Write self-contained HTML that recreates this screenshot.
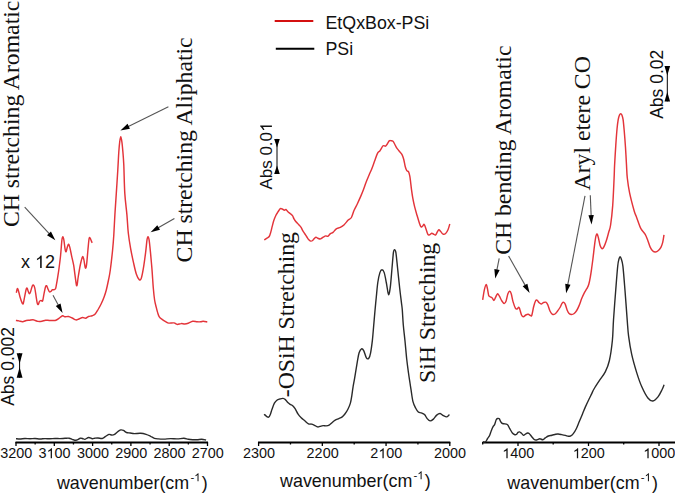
<!DOCTYPE html>
<html><head><meta charset="utf-8"><style>
html,body{margin:0;padding:0;background:#fff;}
svg{display:block;}
.rd{fill:none;stroke:#e3343a;stroke-width:1.45;stroke-linejoin:round;}
.bk{fill:none;stroke:#2a2a2a;stroke-width:1.4;stroke-linejoin:round;}
.ax{stroke:#000;stroke-width:1.8;}
.tk{stroke:#000;stroke-width:1.3;}
.ar{stroke:#555;stroke-width:1.1;}
.ah{fill:#000;}
text{font-family:"Liberation Sans",sans-serif;fill:#111;}
.tl{font-size:14.4px;}
.at{font-size:17.9px;}
.lg{font-size:17.8px;}
.x12{font-size:18px;}
.ab{font-size:17px;}
.ab2{font-size:17.5px;}
.sl{font-family:"Liberation Serif",serif;font-size:23.7px;}
</style></head><body>
<svg width="675" height="494" viewBox="0 0 675 494">
<line x1="15.5" y1="442.5" x2="208" y2="442.5" class="ax"/><line x1="16.0" y1="442" x2="16.0" y2="446" class="tk"/><line x1="54.3" y1="442" x2="54.3" y2="446" class="tk"/><line x1="92.6" y1="442" x2="92.6" y2="446" class="tk"/><line x1="130.89999999999998" y1="442" x2="130.89999999999998" y2="446" class="tk"/><line x1="169.2" y1="442" x2="169.2" y2="446" class="tk"/><line x1="207.5" y1="442" x2="207.5" y2="446" class="tk"/><line x1="35.15" y1="442" x2="35.15" y2="444.5" class="tk"/><line x1="73.44999999999999" y1="442" x2="73.44999999999999" y2="444.5" class="tk"/><line x1="111.75" y1="442" x2="111.75" y2="444.5" class="tk"/><line x1="150.04999999999998" y1="442" x2="150.04999999999998" y2="444.5" class="tk"/><line x1="188.35" y1="442" x2="188.35" y2="444.5" class="tk"/><text x="0.28 8.29 16.30 24.31" y="458.2" style="font-size:14.4px">3200</text><text x="38.58 54.60 62.61" y="458.2" style="font-size:14.4px">300</text><path d="M763,0L583,0L583,-1102Q518,-1043 412,-983Q306,-924 222,-894L222,-1061Q371,-1128 483,-1224Q595,-1321 642,-1409L763,-1409Z" transform="translate(46.59,458.2) scale(0.00703)" fill="#111"/><text x="76.88 84.89 92.90 100.91" y="458.2" style="font-size:14.4px">3000</text><text x="115.18 123.19 131.20 139.21" y="458.2" style="font-size:14.4px">2900</text><text x="153.48 161.49 169.50 177.51" y="458.2" style="font-size:14.4px">2800</text><text x="191.78 199.79 207.80 215.81" y="458.2" style="font-size:14.4px">2700</text>
<line x1="258" y1="442.5" x2="450.3" y2="442.5" class="ax"/><line x1="258.6" y1="442" x2="258.6" y2="446" class="tk"/><line x1="322.33000000000004" y1="442" x2="322.33000000000004" y2="446" class="tk"/><line x1="386.06" y1="442" x2="386.06" y2="446" class="tk"/><line x1="449.79" y1="442" x2="449.79" y2="446" class="tk"/><line x1="290.47" y1="442" x2="290.47" y2="444.5" class="tk"/><line x1="354.20000000000005" y1="442" x2="354.20000000000005" y2="444.5" class="tk"/><line x1="417.93" y1="442" x2="417.93" y2="444.5" class="tk"/><text x="242.88 250.89 258.90 266.91" y="458.2" style="font-size:14.4px">2300</text><text x="306.61 314.62 322.63 330.64" y="458.2" style="font-size:14.4px">2200</text><text x="370.34 386.36 394.37" y="458.2" style="font-size:14.4px">200</text><path d="M763,0L583,0L583,-1102Q518,-1043 412,-983Q306,-924 222,-894L222,-1061Q371,-1128 483,-1224Q595,-1321 642,-1409L763,-1409Z" transform="translate(378.35,458.2) scale(0.00703)" fill="#111"/><text x="434.07 442.08 450.09 458.10" y="458.2" style="font-size:14.4px">2000</text>
<line x1="482.5" y1="442.5" x2="675" y2="442.5" class="ax"/><line x1="518" y1="442" x2="518" y2="446" class="tk"/><line x1="588.5" y1="442" x2="588.5" y2="446" class="tk"/><line x1="659" y1="442" x2="659" y2="446" class="tk"/><line x1="482.7" y1="442" x2="482.7" y2="444.5" class="tk"/><line x1="553.2" y1="442" x2="553.2" y2="444.5" class="tk"/><line x1="623.7" y1="442" x2="623.7" y2="444.5" class="tk"/><text x="510.29 518.30 526.31" y="458.2" style="font-size:14.4px">400</text><path d="M763,0L583,0L583,-1102Q518,-1043 412,-983Q306,-924 222,-894L222,-1061Q371,-1128 483,-1224Q595,-1321 642,-1409L763,-1409Z" transform="translate(502.28,458.2) scale(0.00703)" fill="#111"/><text x="580.79 588.80 596.81" y="458.2" style="font-size:14.4px">200</text><path d="M763,0L583,0L583,-1102Q518,-1043 412,-983Q306,-924 222,-894L222,-1061Q371,-1128 483,-1224Q595,-1321 642,-1409L763,-1409Z" transform="translate(572.78,458.2) scale(0.00703)" fill="#111"/><text x="651.29 659.30 667.31" y="458.2" style="font-size:14.4px">000</text><path d="M763,0L583,0L583,-1102Q518,-1043 412,-983Q306,-924 222,-894L222,-1061Q371,-1128 483,-1224Q595,-1321 642,-1409L763,-1409Z" transform="translate(643.28,458.2) scale(0.00703)" fill="#111"/>
<path d="M15.90,320.50C16.40,320.57 17.78,320.70 18.90,320.90C20.02,321.10 21.37,321.77 22.60,321.70C23.83,321.63 25.18,320.75 26.30,320.50C27.42,320.25 28.18,320.33 29.30,320.20C30.42,320.07 32.02,319.65 33.00,319.70C33.98,319.75 34.35,320.22 35.20,320.50C36.05,320.78 36.98,321.28 38.10,321.40C39.22,321.52 40.65,321.40 41.90,321.20C43.15,321.00 44.37,320.32 45.60,320.20C46.83,320.08 48.07,320.45 49.30,320.50C50.53,320.55 51.90,320.55 53.00,320.50C54.10,320.45 54.92,320.55 55.90,320.20C56.88,319.85 57.78,319.15 58.90,318.40C60.02,317.65 61.62,315.97 62.60,315.70C63.58,315.43 63.82,316.67 64.80,316.80C65.78,316.93 67.27,316.30 68.50,316.50C69.73,316.70 70.97,317.43 72.20,318.00C73.43,318.57 74.78,319.73 75.90,319.90C77.02,320.07 77.78,319.40 78.90,319.00C80.02,318.60 81.48,317.62 82.60,317.50C83.72,317.38 84.62,318.47 85.60,318.30C86.58,318.13 87.40,316.93 88.50,316.50C89.60,316.07 91.08,316.12 92.20,315.70C93.32,315.28 94.22,315.03 95.20,314.00C96.18,312.97 97.12,311.17 98.10,309.50C99.08,307.83 100.10,306.08 101.10,304.00C102.10,301.92 103.23,299.33 104.10,297.00C104.97,294.67 105.57,292.83 106.30,290.00C107.03,287.17 107.83,283.33 108.50,280.00C109.17,276.67 109.62,275.00 110.30,270.00C110.98,265.00 112.02,255.83 112.60,250.00C113.18,244.17 113.42,240.90 113.80,235.00C114.18,229.10 114.48,221.53 114.90,214.60C115.32,207.67 115.82,200.83 116.30,193.40C116.78,185.97 117.38,176.90 117.80,170.00C118.22,163.10 118.48,156.67 118.80,152.00C119.12,147.33 119.37,144.55 119.70,142.00C120.03,139.45 120.43,136.70 120.80,136.70C121.17,136.70 121.55,139.45 121.90,142.00C122.25,144.55 122.58,148.17 122.90,152.00C123.22,155.83 123.48,158.10 123.80,165.00C124.12,171.90 124.28,185.13 124.80,193.40C125.32,201.67 126.32,208.00 126.90,214.60C127.48,221.20 127.68,227.37 128.30,233.00C128.92,238.63 129.73,243.47 130.60,248.40C131.47,253.33 132.55,258.35 133.50,262.60C134.45,266.85 135.35,271.07 136.30,273.90C137.25,276.73 138.37,278.88 139.20,279.60C140.03,280.32 140.60,280.10 141.30,278.20C142.00,276.30 142.68,272.47 143.40,268.20C144.12,263.93 145.00,257.32 145.60,252.60C146.20,247.88 146.60,242.55 147.00,239.90C147.40,237.25 147.65,236.70 148.00,236.70C148.35,236.70 148.68,237.25 149.10,239.90C149.52,242.55 150.02,247.65 150.50,252.60C150.98,257.55 151.53,263.70 152.00,269.60C152.47,275.50 152.87,282.93 153.30,288.00C153.73,293.07 154.12,296.82 154.60,300.00C155.08,303.18 155.70,305.03 156.20,307.10C156.70,309.17 157.08,310.77 157.60,312.40C158.12,314.03 158.50,315.70 159.30,316.90C160.10,318.10 161.28,318.78 162.40,319.60C163.52,320.42 164.95,321.22 166.00,321.80C167.05,322.38 167.37,322.92 168.70,323.10C170.03,323.28 172.60,322.68 174.00,322.90C175.40,323.12 175.92,324.28 177.10,324.40C178.28,324.52 179.83,323.67 181.10,323.60C182.37,323.53 183.52,324.05 184.70,324.00C185.88,323.95 186.87,323.75 188.20,323.30C189.53,322.85 191.22,321.55 192.70,321.30C194.18,321.05 195.77,321.72 197.10,321.80C198.43,321.88 199.67,321.90 200.70,321.80C201.73,321.70 202.20,321.17 203.30,321.20C204.40,321.23 206.63,321.87 207.30,322.00" class="rd"/>
<path d="M16.30,292.80C16.47,292.12 16.97,289.13 17.30,288.70C17.63,288.27 17.83,288.77 18.30,290.20C18.77,291.63 19.47,295.18 20.10,297.30C20.73,299.42 21.57,301.88 22.10,302.90C22.63,303.92 22.87,304.50 23.30,303.40C23.73,302.30 24.22,298.67 24.70,296.30C25.18,293.93 25.78,290.55 26.20,289.20C26.62,287.85 26.87,287.85 27.20,288.20C27.53,288.55 27.83,290.37 28.20,291.30C28.57,292.23 28.98,293.80 29.40,293.80C29.82,293.80 30.23,292.57 30.70,291.30C31.17,290.03 31.73,287.22 32.20,286.20C32.67,285.18 33.07,284.87 33.50,285.20C33.93,285.53 34.37,286.35 34.80,288.20C35.23,290.05 35.68,293.77 36.10,296.30C36.52,298.83 36.93,302.05 37.30,303.40C37.67,304.75 37.93,304.73 38.30,304.40C38.67,304.07 39.03,302.07 39.50,301.40C39.97,300.73 40.58,300.48 41.10,300.40C41.62,300.32 42.13,301.92 42.60,300.90C43.07,299.88 43.43,296.58 43.90,294.30C44.37,292.02 44.95,288.63 45.40,287.20C45.85,285.77 46.18,285.45 46.60,285.70C47.02,285.95 47.43,287.68 47.90,288.70C48.37,289.72 48.88,291.37 49.40,291.80C49.92,292.23 50.48,291.65 51.00,291.30C51.52,290.95 52.00,289.97 52.50,289.70C53.00,289.43 53.50,289.87 54.00,289.70C54.50,289.53 55.08,289.62 55.50,288.70C55.92,287.78 56.13,286.13 56.50,284.20C56.87,282.27 57.28,279.72 57.70,277.10C58.12,274.48 58.52,272.13 59.00,268.50C59.48,264.87 60.12,260.03 60.60,255.30C61.08,250.57 61.52,243.22 61.90,240.10C62.28,236.98 62.57,236.60 62.90,236.60C63.23,236.60 63.53,238.00 63.90,240.10C64.27,242.20 64.73,247.25 65.10,249.20C65.47,251.15 65.73,252.13 66.10,251.80C66.47,251.47 66.87,248.47 67.30,247.20C67.73,245.93 68.25,244.03 68.70,244.20C69.15,244.37 69.50,246.18 70.00,248.20C70.50,250.22 71.08,253.43 71.70,256.30C72.32,259.17 73.12,262.02 73.70,265.40C74.28,268.78 74.75,273.33 75.20,276.60C75.65,279.87 76.07,283.68 76.40,285.00C76.73,286.32 76.90,285.83 77.20,284.50C77.50,283.17 77.65,280.42 78.20,277.00C78.75,273.58 79.78,267.37 80.50,264.00C81.22,260.63 81.95,257.57 82.50,256.80C83.05,256.03 83.32,257.53 83.80,259.40C84.28,261.27 84.93,267.17 85.40,268.00C85.87,268.83 86.18,267.37 86.60,264.40C87.02,261.43 87.48,254.50 87.90,250.20C88.32,245.90 88.72,240.58 89.10,238.60C89.48,236.62 89.82,237.88 90.20,238.30C90.58,238.72 91.07,240.33 91.40,241.10C91.73,241.87 92.07,242.60 92.20,242.90" class="rd"/>
<path d="M264.30,240.00C264.68,239.72 265.78,238.88 266.60,238.30C267.42,237.72 268.52,237.48 269.20,236.50C269.88,235.52 270.20,234.08 270.70,232.40C271.20,230.72 271.70,228.33 272.20,226.40C272.70,224.47 273.12,222.58 273.70,220.80C274.28,219.02 275.02,217.13 275.70,215.70C276.38,214.27 277.03,213.37 277.80,212.20C278.57,211.03 279.55,209.23 280.30,208.70C281.05,208.17 281.62,208.75 282.30,209.00C282.98,209.25 283.80,210.12 284.40,210.20C285.00,210.28 285.32,209.25 285.90,209.50C286.48,209.75 287.15,211.00 287.90,211.70C288.65,212.40 289.63,213.03 290.40,213.70C291.17,214.37 291.90,214.85 292.50,215.70C293.10,216.55 293.42,217.78 294.00,218.80C294.58,219.82 295.25,220.87 296.00,221.80C296.75,222.73 297.65,223.47 298.50,224.40C299.35,225.33 300.42,226.40 301.10,227.40C301.78,228.40 302.02,229.38 302.60,230.40C303.18,231.42 303.93,232.48 304.60,233.50C305.27,234.52 305.93,235.50 306.60,236.50C307.27,237.50 307.92,238.73 308.60,239.50C309.28,240.27 310.02,240.93 310.70,241.10C311.38,241.27 312.17,240.85 312.70,240.50C313.23,240.15 313.37,239.55 313.90,239.00C314.43,238.45 315.23,237.32 315.90,237.20C316.57,237.08 317.13,238.02 317.90,238.30C318.67,238.58 319.62,239.08 320.50,238.90C321.38,238.72 322.32,237.70 323.20,237.20C324.08,236.70 325.03,236.05 325.80,235.90C326.57,235.75 327.03,236.67 327.80,236.30C328.57,235.93 329.53,234.35 330.40,233.70C331.27,233.05 332.02,233.20 333.00,232.40C333.98,231.60 335.08,229.73 336.30,228.90C337.52,228.07 338.98,228.10 340.30,227.40C341.62,226.70 342.88,225.92 344.20,224.70C345.52,223.48 347.00,221.30 348.20,220.10C349.40,218.90 350.42,219.13 351.40,217.50C352.38,215.87 353.10,212.60 354.10,210.30C355.10,208.00 356.30,206.02 357.40,203.70C358.50,201.38 359.68,198.77 360.70,196.40C361.72,194.03 362.60,191.87 363.50,189.50C364.40,187.13 365.17,184.62 366.10,182.20C367.03,179.78 368.08,177.42 369.10,175.00C370.12,172.58 371.28,170.03 372.20,167.70C373.12,165.37 373.70,163.43 374.60,161.00C375.50,158.57 376.70,154.82 377.60,153.10C378.50,151.38 379.08,151.92 380.00,150.70C380.92,149.48 382.18,146.55 383.10,145.80C384.02,145.05 384.80,146.50 385.50,146.20C386.20,145.90 386.68,144.88 387.30,144.00C387.92,143.12 388.58,141.45 389.20,140.90C389.82,140.35 390.37,140.65 391.00,140.70C391.63,140.75 392.40,140.65 393.00,141.20C393.60,141.75 394.02,142.93 394.60,144.00C395.18,145.07 395.78,146.48 396.50,147.60C397.22,148.72 398.00,149.58 398.90,150.70C399.80,151.82 401.10,152.88 401.90,154.30C402.70,155.72 403.15,157.17 403.70,159.20C404.25,161.23 404.68,164.58 405.20,166.50C405.72,168.42 406.23,169.80 406.80,170.70C407.37,171.60 408.10,170.98 408.60,171.90C409.10,172.82 409.47,174.52 409.80,176.20C410.13,177.88 410.32,179.75 410.60,182.00C410.88,184.25 411.13,187.00 411.50,189.70C411.87,192.40 412.28,195.37 412.80,198.20C413.32,201.03 413.90,203.87 414.60,206.70C415.30,209.53 416.23,212.57 417.00,215.20C417.77,217.83 418.55,220.57 419.20,222.50C419.85,224.43 420.35,226.18 420.90,226.80C421.45,227.42 421.97,226.62 422.50,226.20C423.03,225.78 423.60,224.10 424.10,224.30C424.60,224.50 424.87,225.72 425.50,227.40C426.13,229.08 427.18,233.18 427.90,234.40C428.62,235.62 429.15,234.90 429.80,234.70C430.45,234.50 431.10,233.25 431.80,233.20C432.50,233.15 433.33,234.15 434.00,234.40C434.67,234.65 435.03,235.47 435.80,234.70C436.57,233.93 437.78,230.32 438.60,229.80C439.42,229.28 439.95,230.88 440.70,231.60C441.45,232.32 442.28,233.78 443.10,234.10C443.92,234.42 444.78,234.22 445.60,233.50C446.42,232.78 447.30,231.38 448.00,229.80C448.70,228.22 449.50,224.97 449.80,224.00" class="rd"/>
<path d="M482.70,299.80C482.97,298.18 483.73,292.63 484.30,290.10C484.87,287.57 485.57,284.80 486.10,284.60C486.63,284.40 487.07,287.07 487.50,288.90C487.93,290.73 488.23,294.28 488.70,295.60C489.17,296.92 489.72,296.40 490.30,296.80C490.88,297.20 491.58,297.40 492.20,298.00C492.82,298.60 493.40,300.60 494.00,300.40C494.60,300.20 495.20,297.92 495.80,296.80C496.40,295.68 497.00,293.80 497.60,293.70C498.20,293.60 498.68,294.98 499.40,296.20C500.12,297.42 501.08,299.78 501.90,301.00C502.72,302.22 503.60,303.50 504.30,303.50C505.00,303.50 505.50,302.63 506.10,301.00C506.70,299.37 507.28,295.32 507.90,293.70C508.52,292.08 509.23,291.25 509.80,291.30C510.37,291.35 510.77,292.28 511.30,294.00C511.83,295.72 512.30,299.22 513.00,301.60C513.70,303.98 514.78,307.08 515.50,308.30C516.22,309.52 516.77,309.10 517.30,308.90C517.83,308.70 518.30,307.10 518.70,307.10C519.10,307.10 519.23,307.58 519.70,308.90C520.17,310.22 520.88,313.68 521.50,315.00C522.12,316.32 522.68,316.80 523.40,316.80C524.12,316.80 525.00,315.42 525.80,315.00C526.60,314.58 527.38,314.20 528.20,314.30C529.02,314.40 530.08,315.48 530.70,315.60C531.32,315.72 531.40,316.52 531.90,315.00C532.40,313.48 533.10,308.83 533.70,306.50C534.30,304.17 534.95,302.07 535.50,301.00C536.05,299.93 536.38,299.80 537.00,300.10C537.62,300.40 538.48,302.15 539.20,302.80C539.92,303.45 540.60,304.03 541.30,304.00C542.00,303.97 542.65,302.90 543.40,302.60C544.15,302.30 545.08,301.87 545.80,302.20C546.52,302.53 546.98,303.08 547.70,304.60C548.42,306.12 549.30,309.68 550.10,311.30C550.90,312.92 551.68,313.85 552.50,314.30C553.32,314.75 554.18,314.50 555.00,314.00C555.82,313.50 556.57,312.38 557.40,311.30C558.23,310.22 559.23,308.82 560.00,307.50C560.77,306.18 561.37,304.25 562.00,303.40C562.63,302.55 563.25,302.23 563.80,302.40C564.35,302.57 564.75,303.13 565.30,304.40C565.85,305.67 566.47,308.48 567.10,310.00C567.73,311.52 568.35,312.75 569.10,313.50C569.85,314.25 570.75,314.50 571.60,314.50C572.45,314.50 573.35,314.17 574.20,313.50C575.05,312.83 575.87,311.85 576.70,310.50C577.53,309.15 578.35,307.43 579.20,305.40C580.05,303.37 580.95,300.40 581.80,298.30C582.65,296.20 583.47,294.40 584.30,292.80C585.13,291.20 586.05,290.13 586.80,288.70C587.55,287.27 588.20,286.23 588.80,284.20C589.40,282.17 589.92,279.20 590.40,276.50C590.88,273.80 591.28,270.92 591.70,268.00C592.12,265.08 592.38,263.13 592.90,259.00C593.42,254.87 594.28,247.05 594.80,243.20C595.32,239.35 595.60,237.42 596.00,235.90C596.40,234.38 596.80,233.78 597.20,234.10C597.60,234.42 597.90,235.87 598.40,237.80C598.90,239.73 599.58,243.88 600.20,245.70C600.82,247.52 601.48,248.50 602.10,248.70C602.72,248.90 603.20,248.22 603.90,246.90C604.60,245.58 605.50,243.23 606.30,240.80C607.10,238.37 607.98,234.93 608.70,232.30C609.42,229.67 609.93,229.45 610.60,225.00C611.27,220.55 612.12,213.40 612.70,205.60C613.28,197.80 613.78,184.97 614.10,178.20C614.42,171.43 614.32,170.52 614.60,165.00C614.88,159.48 615.40,151.05 615.80,145.10C616.20,139.15 616.60,133.55 617.00,129.30C617.40,125.05 617.78,121.98 618.20,119.60C618.62,117.22 619.08,115.98 619.50,115.00C619.92,114.02 620.30,113.70 620.70,113.70C621.10,113.70 621.50,114.02 621.90,115.00C622.30,115.98 622.70,116.82 623.10,119.60C623.50,122.38 623.90,127.05 624.30,131.70C624.70,136.35 625.13,141.95 625.50,147.50C625.87,153.05 626.20,159.92 626.50,165.00C626.80,170.08 626.78,173.37 627.30,178.00C627.82,182.63 628.45,187.30 629.60,192.80C630.75,198.30 633.12,207.12 634.20,211.00C635.28,214.88 635.35,214.07 636.10,216.10C636.85,218.13 637.85,221.02 638.70,223.20C639.55,225.38 640.12,227.35 641.20,229.20C642.28,231.05 644.10,232.43 645.20,234.30C646.30,236.17 646.95,238.22 647.80,240.40C648.65,242.58 649.47,245.63 650.30,247.40C651.13,249.17 651.95,250.23 652.80,251.00C653.65,251.77 654.47,252.08 655.40,252.00C656.33,251.92 657.48,251.27 658.40,250.50C659.32,249.73 660.18,248.75 660.90,247.40C661.62,246.05 662.18,244.50 662.70,242.40C663.22,240.30 663.78,236.07 664.00,234.80" class="rd"/>
<path d="M16.00,438.70C16.67,438.75 18.50,439.03 20.00,439.00C21.50,438.97 23.33,438.53 25.00,438.50C26.67,438.47 28.33,438.80 30.00,438.80C31.67,438.80 33.33,438.47 35.00,438.50C36.67,438.53 38.33,438.98 40.00,439.00C41.67,439.02 43.33,438.63 45.00,438.60C46.67,438.57 48.33,438.82 50.00,438.80C51.67,438.78 53.33,438.53 55.00,438.50C56.67,438.47 58.33,438.63 60.00,438.60C61.67,438.57 63.48,438.37 65.00,438.30C66.52,438.23 67.92,438.03 69.10,438.20C70.28,438.37 71.17,438.95 72.10,439.30C73.03,439.65 73.83,440.22 74.70,440.30C75.57,440.38 76.35,440.15 77.30,439.80C78.25,439.45 79.45,438.38 80.40,438.20C81.35,438.02 82.23,438.52 83.00,438.70C83.77,438.88 84.05,439.50 85.00,439.30C85.95,439.10 87.48,437.60 88.70,437.50C89.92,437.40 91.27,438.58 92.30,438.70C93.33,438.82 93.95,438.32 94.90,438.20C95.85,438.08 96.78,437.95 98.00,438.00C99.22,438.05 100.98,438.72 102.20,438.50C103.42,438.28 104.18,437.38 105.30,436.70C106.42,436.02 107.78,434.67 108.90,434.40C110.02,434.13 111.05,435.10 112.00,435.10C112.95,435.10 113.65,434.97 114.60,434.40C115.55,433.83 116.67,432.45 117.70,431.70C118.73,430.95 119.85,430.12 120.80,429.90C121.75,429.68 122.45,429.97 123.40,430.40C124.35,430.83 125.37,432.07 126.50,432.50C127.63,432.93 128.90,432.82 130.20,433.00C131.50,433.18 132.57,433.55 134.30,433.60C136.03,433.65 138.63,433.17 140.60,433.30C142.57,433.43 144.43,433.90 146.10,434.40C147.77,434.90 149.22,435.65 150.60,436.30C151.98,436.95 153.12,437.87 154.40,438.30C155.68,438.73 156.72,438.77 158.30,438.90C159.88,439.03 161.85,439.15 163.90,439.10C165.95,439.05 168.38,438.63 170.60,438.60C172.82,438.57 174.98,438.95 177.20,438.90C179.42,438.85 182.05,438.23 183.90,438.30C185.75,438.37 186.82,439.07 188.30,439.30C189.78,439.53 191.32,439.62 192.80,439.70C194.28,439.78 195.72,439.87 197.20,439.80C198.68,439.73 200.22,439.27 201.70,439.30C203.18,439.33 205.37,439.88 206.10,440.00" class="bk"/>
<path d="M264.10,414.20C264.50,414.55 265.75,415.80 266.50,416.30C267.25,416.80 267.98,417.45 268.60,417.20C269.22,416.95 269.63,416.12 270.20,414.80C270.77,413.48 271.30,411.23 272.00,409.30C272.70,407.37 273.58,404.72 274.40,403.20C275.22,401.68 275.98,400.90 276.90,400.20C277.82,399.50 278.88,399.30 279.90,399.00C280.92,398.70 282.08,398.30 283.00,398.40C283.92,398.50 284.60,398.90 285.40,399.60C286.20,400.30 287.00,401.80 287.80,402.60C288.60,403.40 289.38,403.88 290.20,404.40C291.02,404.92 291.88,404.98 292.70,405.70C293.52,406.42 294.20,407.28 295.10,408.70C296.00,410.12 297.08,412.68 298.10,414.20C299.12,415.72 300.08,416.70 301.20,417.80C302.32,418.90 303.58,419.78 304.80,420.80C306.02,421.82 307.38,423.35 308.50,423.90C309.62,424.45 310.50,423.87 311.50,424.10C312.50,424.33 313.48,424.83 314.50,425.30C315.52,425.77 316.68,426.72 317.60,426.90C318.52,427.08 319.10,426.62 320.00,426.40C320.90,426.18 321.98,425.68 323.00,425.60C324.02,425.52 325.08,425.97 326.10,425.90C327.12,425.83 328.08,425.77 329.10,425.20C330.12,424.63 331.18,423.35 332.20,422.50C333.22,421.65 334.10,420.75 335.20,420.10C336.30,419.45 337.68,419.10 338.80,418.60C339.92,418.10 340.88,417.87 341.90,417.10C342.92,416.33 343.90,415.32 344.90,414.00C345.90,412.68 346.98,411.02 347.90,409.20C348.82,407.38 349.75,405.33 350.40,403.10C351.05,400.87 351.37,398.43 351.80,395.80C352.23,393.17 352.53,390.22 353.00,387.30C353.47,384.38 353.88,382.53 354.60,378.30C355.32,374.07 356.55,366.15 357.30,361.90C358.05,357.65 358.40,354.98 359.10,352.80C359.80,350.62 360.73,349.17 361.50,348.80C362.27,348.43 362.88,349.08 363.70,350.60C364.52,352.12 365.55,356.62 366.40,357.90C367.25,359.18 368.10,359.15 368.80,358.30C369.50,357.45 370.00,355.83 370.60,352.80C371.20,349.77 371.88,344.65 372.40,340.10C372.92,335.55 373.27,330.43 373.70,325.50C374.13,320.57 374.57,315.25 375.00,310.50C375.43,305.75 375.83,301.67 376.30,297.00C376.77,292.33 377.20,286.57 377.80,282.50C378.40,278.43 379.20,274.73 379.90,272.60C380.60,270.47 381.28,269.70 382.00,269.70C382.72,269.70 383.48,270.47 384.20,272.60C384.92,274.73 385.65,279.08 386.30,282.50C386.95,285.92 387.63,291.22 388.10,293.10C388.57,294.98 388.70,295.10 389.10,293.80C389.50,292.50 390.02,289.55 390.50,285.30C390.98,281.05 391.52,273.73 392.00,268.30C392.48,262.87 392.98,255.82 393.40,252.70C393.82,249.58 394.08,249.60 394.50,249.60C394.92,249.60 395.38,249.58 395.90,252.70C396.42,255.82 396.97,262.38 397.60,268.30C398.23,274.22 399.07,282.53 399.70,288.20C400.33,293.87 400.97,298.67 401.40,302.30C401.83,305.93 401.98,306.22 402.30,310.00C402.62,313.78 402.85,319.83 403.30,325.00C403.75,330.17 404.43,335.33 405.00,341.00C405.57,346.67 406.12,353.67 406.70,359.00C407.28,364.33 407.95,369.00 408.50,373.00C409.05,377.00 409.57,380.15 410.00,383.00C410.43,385.85 410.62,387.05 411.10,390.10C411.58,393.15 412.15,398.32 412.90,401.30C413.65,404.28 414.70,406.22 415.60,408.00C416.50,409.78 417.37,411.18 418.30,412.00C419.23,412.82 420.17,412.47 421.20,412.90C422.23,413.33 423.50,413.65 424.50,414.60C425.50,415.55 426.27,417.55 427.20,418.60C428.13,419.65 429.07,420.82 430.10,420.90C431.13,420.98 432.30,420.07 433.40,419.10C434.50,418.13 435.58,416.03 436.70,415.10C437.82,414.17 438.98,413.40 440.10,413.50C441.22,413.60 442.28,415.13 443.40,415.70C444.52,416.27 445.80,417.08 446.80,416.90C447.80,416.72 448.97,414.98 449.40,414.60" class="bk"/>
<path d="M483.00,442.00C483.43,441.97 484.83,442.38 485.60,441.80C486.37,441.22 486.93,439.55 487.60,438.50C488.27,437.45 489.00,436.77 489.60,435.50C490.20,434.23 490.60,432.42 491.20,430.90C491.80,429.38 492.62,427.48 493.20,426.40C493.78,425.32 494.20,425.50 494.70,424.40C495.20,423.30 495.70,420.78 496.20,419.80C496.70,418.82 497.18,418.67 497.70,418.50C498.22,418.33 498.83,418.33 499.30,418.80C499.77,419.27 500.08,420.58 500.50,421.30C500.92,422.02 501.25,422.68 501.80,423.10C502.35,423.52 503.05,423.63 503.80,423.80C504.55,423.97 505.62,423.87 506.30,424.10C506.98,424.33 507.30,424.40 507.90,425.20C508.50,426.00 509.15,427.60 509.90,428.90C510.65,430.20 511.65,432.07 512.40,433.00C513.15,433.93 513.75,434.25 514.40,434.50C515.05,434.75 515.70,434.85 516.30,434.50C516.90,434.15 517.47,432.83 518.00,432.40C518.53,431.97 518.92,431.75 519.50,431.90C520.08,432.05 520.83,432.73 521.50,433.30C522.17,433.87 522.82,435.18 523.50,435.30C524.18,435.42 524.92,434.38 525.60,434.00C526.28,433.62 527.02,433.08 527.60,433.00C528.18,432.92 528.43,432.92 529.10,433.50C529.77,434.08 530.75,435.50 531.60,436.50C532.45,437.50 533.43,438.92 534.20,439.50C534.97,440.08 535.67,439.97 536.20,440.00C536.73,440.03 536.78,439.90 537.40,439.70C538.02,439.50 538.98,438.80 539.90,438.80C540.82,438.80 542.00,439.85 542.90,439.70C543.80,439.55 544.38,438.52 545.30,437.90C546.22,437.28 547.28,436.45 548.40,436.00C549.52,435.55 550.78,435.50 552.00,435.20C553.22,434.90 554.68,434.40 555.70,434.20C556.72,434.00 557.10,433.93 558.10,434.00C559.10,434.07 560.48,434.37 561.70,434.60C562.92,434.83 564.28,435.12 565.40,435.40C566.52,435.68 567.50,436.23 568.40,436.30C569.30,436.37 569.98,436.25 570.80,435.80C571.62,435.35 572.38,434.78 573.30,433.60C574.22,432.42 575.30,430.72 576.30,428.70C577.30,426.68 578.28,423.92 579.30,421.50C580.32,419.08 581.38,416.63 582.40,414.20C583.42,411.77 584.38,409.23 585.40,406.90C586.42,404.57 587.48,402.33 588.50,400.20C589.52,398.07 590.58,395.97 591.50,394.10C592.42,392.23 592.70,391.23 594.00,389.00C595.30,386.77 597.40,383.60 599.30,380.70C601.20,377.80 603.72,374.97 605.40,371.60C607.08,368.23 608.23,365.73 609.40,360.50C610.57,355.27 611.72,346.95 612.40,340.20C613.08,333.45 612.95,328.28 613.50,320.00C614.05,311.72 615.00,299.47 615.70,290.50C616.40,281.53 617.15,271.45 617.70,266.20C618.25,260.95 618.60,260.57 619.00,259.00C619.40,257.43 619.72,256.80 620.10,256.80C620.48,256.80 620.83,257.43 621.30,259.00C621.77,260.57 622.28,260.95 622.90,266.20C623.52,271.45 624.28,281.53 625.00,290.50C625.72,299.47 626.60,312.38 627.20,320.00C627.80,327.62 627.85,330.47 628.60,336.20C629.35,341.93 630.35,348.33 631.70,354.40C633.05,360.47 635.02,367.20 636.70,372.60C638.38,378.00 639.93,382.57 641.80,386.80C643.67,391.03 646.05,395.63 647.90,398.00C649.75,400.37 651.22,401.18 652.90,401.00C654.58,400.82 656.48,398.77 658.00,396.90C659.52,395.03 660.98,391.82 662.00,389.80C663.02,387.78 663.75,385.63 664.10,384.80" class="bk"/>
<line x1="24.7" y1="207.2" x2="49.66" y2="234.11" class="ar"/><polygon points="55.3,240.2 47.00,235.22 50.96,231.54" class="ah"/>
<line x1="53" y1="295.3" x2="58.64" y2="305.70" class="ar"/><polygon points="62.6,313 55.79,306.11 60.54,303.54" class="ah"/>
<line x1="168.4" y1="106.7" x2="127.84" y2="126.73" class="ar"/><polygon points="120.4,130.4 127.54,123.86 129.93,128.70" class="ah"/>
<line x1="174.4" y1="218.4" x2="157.78" y2="228.04" class="ar"/><polygon points="150.6,232.2 157.29,225.20 160.00,229.87" class="ah"/>
<line x1="499.2" y1="258.3" x2="496.80" y2="270.46" class="ar"/><polygon points="495.2,278.6 494.35,268.95 499.65,270.00" class="ah"/>
<line x1="508.6" y1="256.1" x2="525.50" y2="285.88" class="ar"/><polygon points="529.6,293.1 522.66,286.34 527.36,283.68" class="ah"/>
<line x1="585" y1="195.8" x2="567.68" y2="285.15" class="ar"/><polygon points="566.1,293.3 565.22,283.66 570.52,284.68" class="ah"/>
<line x1="590.3" y1="195.2" x2="591.16" y2="216.11" class="ar"/><polygon points="591.5,224.4 588.42,215.22 593.82,215.00" class="ah"/>
<line x1="19.6" y1="353.2" x2="19.6" y2="377.8" stroke="#000" stroke-width="1"/><polygon points="16.700000000000003,353.2 22.5,353.2 19.6,363.7" fill="#000"/><polygon points="16.700000000000003,377.8 22.5,377.8 19.6,367.3" fill="#000"/>
<line x1="277" y1="138.9" x2="277" y2="174" stroke="#000" stroke-width="1"/><polygon points="274.2,138.9 279.8,138.9 277,147.5" fill="#000"/><polygon points="274.2,174 279.8,174 277,165.4" fill="#000"/>
<line x1="667.3" y1="66" x2="667.3" y2="101.4" stroke="#000" stroke-width="1"/><polygon points="664.5,66 670.0999999999999,66 667.3,75.5" fill="#000"/><polygon points="664.5,101.4 670.0999999999999,101.4 667.3,91.9" fill="#000"/>
<line x1="274.7" y1="21" x2="313.3" y2="21" stroke="#d41010" stroke-width="2"/>
<line x1="275.8" y1="48.7" x2="314.3" y2="48.7" stroke="#000" stroke-width="2"/>
<text x="325.5" y="29.2" class="lg">EtQxBox-PSi</text>
<text x="325.5" y="54.8" class="lg">PSi</text>
<text x="56.90 69.83 79.78 88.73 98.69 108.64 118.60 133.51 143.46 153.42 159.38 165.34 174.29" y="489.4" style="font-size:17.9px">wavenumber(cm</text><text x="190.40" y="481.2" style="font-size:11.5px">-</text><path d="M763,0L583,0L583,-1102Q518,-1043 412,-983Q306,-924 222,-894L222,-1061Q371,-1128 483,-1224Q595,-1321 642,-1409L763,-1409Z" transform="translate(194.23,481.2) scale(0.00562)" fill="#111"/><text x="201.63" y="489.4" style="font-size:17.9px">)</text>
<text x="280.00 292.93 302.88 311.83 321.79 331.74 341.70 356.61 366.56 376.52 382.48 388.44 397.39" y="487.4" style="font-size:17.9px">wavenumber(cm</text><text x="413.50" y="479.2" style="font-size:11.5px">-</text><path d="M763,0L583,0L583,-1102Q518,-1043 412,-983Q306,-924 222,-894L222,-1061Q371,-1128 483,-1224Q595,-1321 642,-1409L763,-1409Z" transform="translate(417.33,479.2) scale(0.00562)" fill="#111"/><text x="424.73" y="487.4" style="font-size:17.9px">)</text>
<text x="507.30 520.23 530.18 539.13 549.09 559.04 569.00 583.91 593.86 603.82 609.78 615.74 624.69" y="489.4" style="font-size:17.9px">wavenumber(cm</text><text x="640.80" y="481.2" style="font-size:11.5px">-</text><path d="M763,0L583,0L583,-1102Q518,-1043 412,-983Q306,-924 222,-894L222,-1061Q371,-1128 483,-1224Q595,-1321 642,-1409L763,-1409Z" transform="translate(644.63,481.2) scale(0.00562)" fill="#111"/><text x="652.03" y="489.4" style="font-size:17.9px">)</text>
<text x="21.00 45.01" y="268" style="font-size:18px">x2</text><path d="M763,0L583,0L583,-1102Q518,-1043 412,-983Q306,-924 222,-894L222,-1061Q371,-1128 483,-1224Q595,-1321 642,-1409L763,-1409Z" transform="translate(35.00,268) scale(0.00879)" fill="#111"/>
<text transform="translate(19.0,227.0) rotate(-90)" class="sl">CH stretching Aromatic</text>
<text transform="translate(192.3,262.4) rotate(-90)" class="sl">CH stretching Aliphatic</text>
<text transform="translate(293.6,397.2) rotate(-90)" class="sl">-OSiH Stretching</text>
<text transform="translate(435.4,383.0) rotate(-90)" class="sl">SiH Stretching</text>
<text transform="translate(511.0,254.8) rotate(-90)" class="sl">CH bending Aromatic</text>
<text transform="translate(590.3,190.4) rotate(-90)" class="sl">Aryl etere CO</text>
<g transform="translate(13.8,405.8) rotate(-90)"><text x="0.00 11.67 21.41 35.02 44.75 49.61 59.34 69.08" y="0" style="font-size:17.5px">Abs0.002</text></g>
<g transform="translate(271.9,189.6) rotate(-90)"><text x="0.00 11.34 20.79 34.02 43.47 48.19" y="0" style="font-size:17px">Abs0.0</text><path d="M763,0L583,0L583,-1102Q518,-1043 412,-983Q306,-924 222,-894L222,-1061Q371,-1128 483,-1224Q595,-1321 642,-1409L763,-1409Z" transform="translate(57.65,0) scale(0.00830)" fill="#111"/></g>
<g transform="translate(663.4,118.8) rotate(-90)"><text x="0.00 11.67 21.41 35.02 44.75 49.61 59.34" y="0" style="font-size:17.5px">Abs0.02</text></g>
</svg>
</body></html>
